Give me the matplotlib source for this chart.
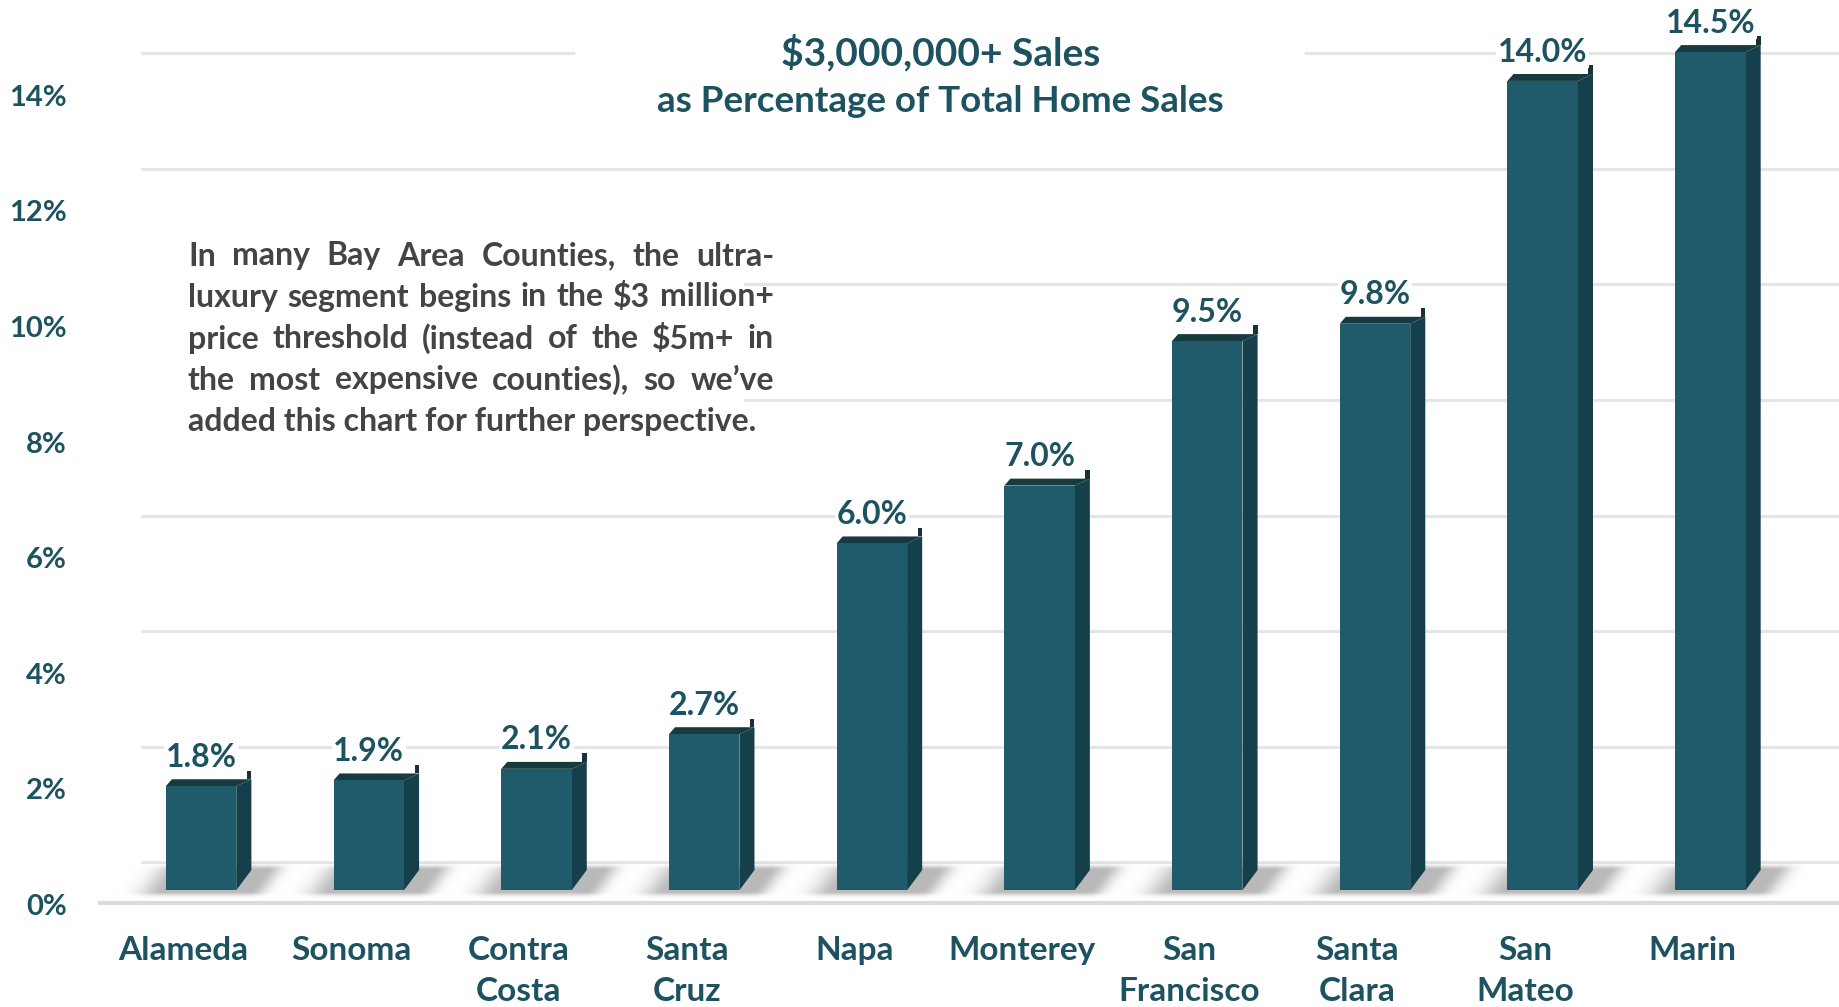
import matplotlib
matplotlib.use("Agg")
import matplotlib.pyplot as plt
from matplotlib.patches import Polygon
import numpy as np

# ---- data ----
counties = ["Alameda", "Sonoma", "Contra\nCosta", "Santa\nCruz", "Napa",
            "Monterey", "San\nFrancisco", "Santa\nClara", "San\nMateo", "Marin"]
share_pct = [1.8, 1.9, 2.1, 2.7, 6.0, 7.0, 9.5, 9.8, 14.0, 14.5]
y_ticks = [0, 2, 4, 6, 8, 10, 12, 14]

title_lines = ["$3,000,000+ Sales", "as Percentage of Total Home Sales"]
note_lines = [
    "In many Bay Area Counties, the ultra-",
    "luxury segment begins in the $3 million+",
    "price threshold (instead of the $5m+ in",
    "the most expensive counties), so we\u2019ve",
    "added this chart for further perspective.",
]

# ---- style ----
FONT = "Lato"
TEAL_TXT = "#1d5260"
NOTE_TXT = "#444444"
FRONT = "#1f5b6a"
SIDE = "#153f4b"
TOP = "#163a3f"
GRID = "#e4e6e6"

BAR_W = 0.42      # front face width (category units)
DEPTH_X = 0.09    # oblique depth, x
DEPTH_Y = 0.35    # oblique depth at floor, y (percent units)
TOP_Y = 0.12      # rise of the top face
WALL_Y = 0.48     # back wall offset for gridlines

fig = plt.figure(figsize=(18.39, 10.07), dpi=100)
ax = fig.add_axes([0, 0, 1, 1])
ax.set_xlim(-1.199, 9.767)
ax.set_ylim(-2.02, 15.40)
ax.axis("off")

x = np.arange(len(counties))

# back-wall gridlines
for t in y_ticks:
    ax.plot([-0.36, 9.77], [t + WALL_Y, t + WALL_Y], color=GRID, lw=2.2,
            zorder=0, solid_capstyle="butt")

# floor front edge
ax.plot([-0.60, 9.77], [-0.22, -0.22], color="#dadcdc", lw=3, zorder=0)

# y tick labels
for t in y_ticks:
    ax.text(-0.80, t - 0.29, f"{t}%", ha="right", va="center", fontsize=21,
            fontweight="bold", color=TEAL_TXT, family=FONT, zorder=5)

# soft floor shadows around each bar base
for xi in x:
    x0 = xi - BAR_W / 2
    x1 = xi + BAR_W / 2 + DEPTH_X
    gx = np.linspace(x0 - 0.35, x1 + 0.3, 180)
    gy = np.linspace(-0.2, 0.6, 60)
    X, Y = np.meshgrid(gx, gy)
    # slant the footprint along the floor depth
    Xs = X - (Y / DEPTH_Y) * DEPTH_X
    dxo = np.maximum(np.maximum(x0 - Xs, Xs - x1), 0)
    sx = np.where(Xs < x0, 0.14, 0.09)
    dyo = np.maximum(np.maximum(-0.02 - Y, Y - DEPTH_Y), 0)
    a = 0.42 * np.exp(-(dxo / sx) ** 2 - (dyo / 0.07) ** 2)
    img = np.zeros(X.shape + (4,))
    img[..., :3] = 0.35
    img[..., 3] = a
    ax.imshow(img, extent=[gx[0], gx[-1], gy[0], gy[-1]], origin="lower",
              aspect="auto", interpolation="bilinear", zorder=1)

# 3D-looking bars
for xi, v in zip(x, share_pct):
    x0 = xi - BAR_W / 2
    x1 = xi + BAR_W / 2
    side = Polygon([(x1, 0), (x1 + DEPTH_X, DEPTH_Y), (x1 + DEPTH_X, v + TOP_Y),
                    (x1, v)], closed=True, facecolor=SIDE, edgecolor="none", zorder=2)
    top = Polygon([(x0, v), (x1, v), (x1 + DEPTH_X, v + TOP_Y),
                   (x0 + DEPTH_X * 0.4, v + TOP_Y)], closed=True,
                  facecolor=TOP, edgecolor="none", zorder=3)
    sliver = Polygon([(x1 + DEPTH_X * 0.7, v + TOP_Y), (x1 + DEPTH_X, v + TOP_Y),
                      (x1 + DEPTH_X, v + 0.27), (x1 + DEPTH_X * 0.7, v + 0.27)],
                     closed=True, facecolor="#183236", edgecolor="none", zorder=3)
    ax.add_patch(side)
    ax.add_patch(top)
    ax.add_patch(sliver)
    ax.bar(xi, v, width=BAR_W, color=FRONT, zorder=3)
    ax.text(xi, v + 0.5, f"{v:.1f}%", ha="center", va="center", fontsize=23,
            fontweight="bold", color=TEAL_TXT, family=FONT, zorder=6,
            bbox=dict(boxstyle="square,pad=0.05", fc="white", ec="none"))

# category labels, one text per line
for xi, name in zip(x, counties):
    for k, part in enumerate(name.split("\n")):
        ax.text(xi - 0.105, -1.04 - 0.72 * k, part, ha="center", va="center",
                fontsize=24, fontweight="bold", color=TEAL_TXT, family=FONT)

# title on a white panel that hides the top gridline
ax.add_patch(plt.Rectangle((2.23, 13.1), 4.35, 2.0, facecolor="white",
                           edgecolor="none", zorder=4))
ax.text(4.41, 14.48, title_lines[0], ha="center", va="center", fontsize=28,
        fontweight="bold", color=TEAL_TXT, family=FONT, zorder=5)
ax.text(4.41, 13.65, title_lines[1], ha="center", va="center", fontsize=26.5,
        fontweight="bold", color=TEAL_TXT, family=FONT, zorder=5)

# note box, fully justified
ax.add_patch(plt.Rectangle((-0.36, 7.3), 3.6, 4.3, facecolor="white",
                           edgecolor="none", zorder=4))
fig.canvas.draw()
renderer = fig.canvas.get_renderer()
to_data = ax.transData.inverted()
left_px, right_px = 188, 774
line_px = [256, 297, 339, 380, 421]
H = fig.bbox.height
for row, line in enumerate(note_lines):
    y_data = to_data.transform((0, H - line_px[row]))[1]
    if row == len(note_lines) - 1:
        xd = to_data.transform((left_px, 0))[0]
        ax.text(xd, y_data, line, ha="left", va="center", fontsize=23,
                fontweight="bold", color=NOTE_TXT, family=FONT, zorder=5)
        continue
    words = line.split(" ")
    texts = [ax.text(0, y_data, w, ha="left", va="center", fontsize=23,
                     fontweight="bold", color=NOTE_TXT, family=FONT, zorder=5)
             for w in words]
    widths = [t.get_window_extent(renderer).width for t in texts]
    gap = (right_px - left_px - sum(widths)) / (len(words) - 1)
    cur = left_px
    for t, w in zip(texts, widths):
        t.set_x(to_data.transform((cur, 0))[0])
        cur += w + gap

fig.savefig("out.png", dpi=100, facecolor="white")
